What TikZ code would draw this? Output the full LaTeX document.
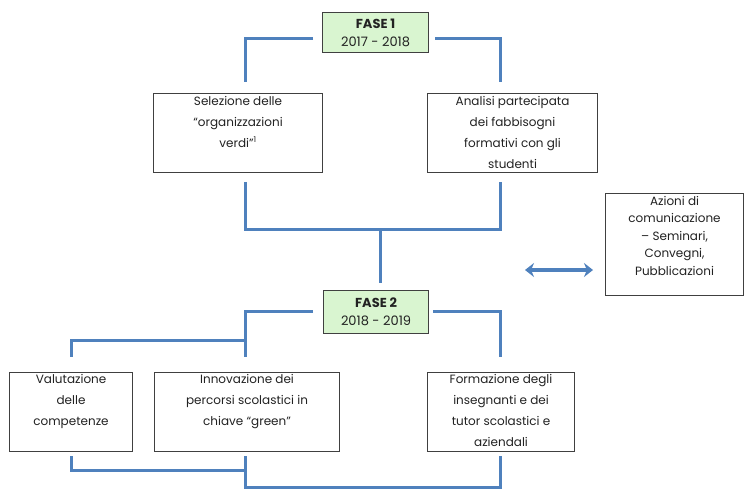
\documentclass[tikz,border=0pt]{standalone}
\usepackage{fontspec}
\setmainfont{Poppins}
\usetikzlibrary{arrows.meta,calc}
\definecolor{lineblue}{HTML}{4F81BD}
\definecolor{fasegreen}{HTML}{D9F5D0}
\definecolor{txt}{HTML}{222222}
\begin{document}
\begin{tikzpicture}[x=1pt,y=-1pt,
  box/.style={draw=black!75, line width=1.1pt, fill=white, inner sep=0pt, anchor=north west},
  fase/.style={draw=black!75, line width=1.1pt, fill=fasegreen, inner sep=0pt, anchor=north west,
    align=center, text=txt, font=\fontsize{13}{18}\selectfont},
  lbl/.style={align=center, text=txt, anchor=north, inner sep=0pt, font=\fontsize{12}{21}\selectfont},
  link/.style={draw=lineblue, line width=3pt},
  dbl/.style={draw=lineblue, line width=3.5pt, {Stealth[length=9pt,width=14pt]}-{Stealth[length=9pt,width=14pt]}}]
\useasboundingbox (0,0) rectangle (750,500);
\fill[white] (0,0) rectangle (750,500);

% Phase 1
\node[fase, minimum width=106, minimum height=40] (f1) at (322,12) {\textbf{FASE 1}\\2017 - 2018};
\node[box, minimum width=169, minimum height=79] (sel) at (153,93) {};
\node[lbl] (selt) at ($(sel.north)+(0,3)$) {Selezione delle\\“organizzazioni\\verdi”\textsuperscript{1}};
\node[box, minimum width=170, minimum height=79] (ana) at (427,93) {};
\node[lbl] (anat) at ($(ana.north)+(0,3)$) {Analisi partecipata\\dei fabbisogni\\formativi con gli\\studenti};

% Phase 2
\node[fase, minimum width=105, minimum height=43] (f2) at (323,290) {\textbf{FASE 2}\\2018 - 2019};
\node[box, minimum width=123, minimum height=79] (val) at (9,372) {};
\node[lbl] (valt) at ($(val.north)+(0,2)$) {Valutazione\\delle\\competenze};
\node[box, minimum width=185, minimum height=79] (inn) at (154,372) {};
\node[lbl] (innt) at ($(inn.north)+(0,2)$) {Innovazione dei\\percorsi scolastici in\\chiave “green”};
\node[box, minimum width=147, minimum height=79] (for) at (427,372) {};
\node[lbl] (fort) at ($(for.north)+(0,2)$) {Formazione degli\\insegnanti e dei\\tutor scolastici e\\aziendali};

% Communication
\node[box, minimum width=138, minimum height=102] (az) at (605,193) {};
\node[lbl, font=\fontsize{12}{17.5}\selectfont] (azt) at ($(az.north)+(0,3)$) {Azioni di\\comunicazione\\– Seminari,\\Convegni,\\Pubblicazioni};

% coordinates
\coordinate (a1) at (313,39);
\coordinate (a2) at (245,82);
\coordinate (b1) at (435,39);
\coordinate (b2) at (500,82);
\coordinate (c1) at (245,182);
\coordinate (c2) at (500,229);
\coordinate (c3) at (500,182);
\coordinate (m1) at (380,229);
\coordinate (m2) at (380,283);
\coordinate (d1) at (313,311);
\coordinate (d2) at (245,357);
\coordinate (d3) at (245,340);
\coordinate (d4) at (71,357);
\coordinate (e1) at (433,311);
\coordinate (e2) at (500,357);
\coordinate (g1) at (71,456);
\coordinate (g2) at (245,470);
\coordinate (h1) at (245,456);
\coordinate (h2) at (500,487);
\coordinate (h3) at (500,456);
\coordinate (k1) at (525,270);
\coordinate (k2) at (593,270);

\draw[link] (a1) -| (a2);
\draw[link] (b1) -| (b2);
\draw[link] (c1) |- (c2) -- (c3);
\draw[link] (m1) -- (m2);
\draw[link] (d1) -| (d2);
\draw[link] (d3) -| (d4);
\draw[link] (e1) -| (e2);
\draw[link] (g1) |- (g2);
\draw[link] (h1) |- (h2) -- (h3);
\draw[dbl] (k1) -- (k2);
\end{tikzpicture}
\end{document}
